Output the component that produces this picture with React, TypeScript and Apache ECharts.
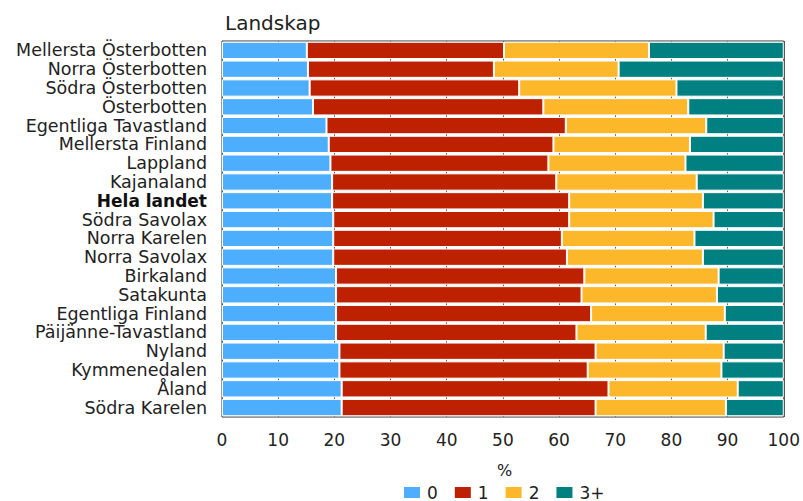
import React, { useEffect, useRef } from "react";
import * as echarts from "echarts";

const categories = [
  "Mellersta Österbotten",
  "Norra Österbotten",
  "Södra Österbotten",
  "Österbotten",
  "Egentliga Tavastland",
  "Mellersta Finland",
  "Lappland",
  "Kajanaland",
  "Hela landet",
  "Södra Savolax",
  "Norra Karelen",
  "Norra Savolax",
  "Birkaland",
  "Satakunta",
  "Egentliga Finland",
  "Päijänne-Tavastland",
  "Nyland",
  "Kymmenedalen",
  "Åland",
  "Södra Karelen",
];

const seriesNames = ["0", "1", "2", "3+"];
const values0 = [15.1, 15.3, 15.6, 16.2, 18.6, 19.0, 19.3, 19.6, 19.6, 19.8, 19.8, 19.8, 20.3, 20.3, 20.3, 20.3, 20.9, 20.9, 21.3, 21.3];
const values1 = [35.1, 33.1, 37.3, 41.0, 42.6, 40.0, 38.8, 39.9, 42.2, 42.0, 40.7, 41.6, 44.2, 43.7, 45.4, 42.8, 45.6, 44.2, 47.5, 45.2];
const values2 = [25.8, 22.2, 28.0, 25.8, 25.0, 24.3, 24.4, 25.0, 23.8, 25.7, 23.6, 24.2, 23.9, 24.1, 23.8, 23.0, 22.8, 23.8, 23.0, 23.2];
const values3 = [24.0, 29.4, 19.1, 17.0, 13.8, 16.7, 17.5, 15.5, 14.4, 12.5, 15.9, 14.4, 11.6, 11.9, 10.5, 13.9, 10.7, 11.1, 8.2, 10.3];
const xTicks = [0, 10, 20, 30, 40, 50, 60, 70, 80, 90, 100];
const colors = ["#4DAEFD", "#BE2100", "#FDB72A", "#008080"];
const boldCategory = "Hela landet";

export default function App() {
  const ref = useRef<HTMLDivElement>(null);
  useEffect(() => {
    if (!ref.current) return;
    const chart = echarts.init(ref.current, null, { renderer: "svg" });
    const font = "DejaVu Sans";
    const allValues = [values0, values1, values2, values3];
    chart.setOption({
      animation: false,
      color: colors,
      textStyle: { fontFamily: font },
      grid: { left: 222, right: 9, top: 41, bottom: 84, show: true, borderColor: "#333", borderWidth: 1, backgroundColor: "#fff" },
      title: {
        text: "Landskap",
        left: 220,
        top: 8,
        textStyle: { fontFamily: font, fontSize: 20, fontWeight: "normal", color: "#222" },
      },
      graphic: [
        {
          type: "text",
          left: 497,
          top: 462,
          style: { text: "%", font: `16px "${font}"`, fill: "#222" },
        },
      ],
      legend: {
        data: seriesNames,
        left: 402,
        top: 484,
        icon: "rect",
        itemWidth: 18,
        itemHeight: 13,
        itemGap: 15,
        padding: 0,
        textStyle: { fontFamily: font, fontSize: 17, lineHeight: 17, color: "#222", padding: [0, 0, 0, 1] },
      },
      xAxis: {
        type: "value",
        min: xTicks[0],
        max: xTicks[xTicks.length - 1],
        interval: 10,
        axisLine: { show: false },
        axisTick: { show: false },
        axisLabel: { fontFamily: font, fontSize: 17, color: "#222", margin: 14 },
        splitLine: { show: true, lineStyle: { color: "#555", width: 1 } },
      },
      yAxis: {
        type: "category",
        data: categories,
        inverse: true,
        axisLine: { show: false },
        axisTick: { show: false },
        axisLabel: {
          interval: 0,
          fontFamily: font,
          fontSize: 17.5,
          lineHeight: 18,
          color: "#222",
          margin: 15,
          formatter: (v: string) => (v === boldCategory ? `{b|${v}}` : v),
          rich: { b: { fontFamily: font, fontSize: 17, lineHeight: 18, fontWeight: "bold", color: "#111" } },
        },
      },
      series: seriesNames.map((name, i) => ({
        name,
        type: "bar",
        stack: "total",
        data: allValues[i],
        barCategoryGap: "8%",
        itemStyle: { borderColor: "#fff", borderWidth: 1 },
      })),
    });
    return () => chart.dispose();
  }, []);
  return <div ref={ref} style={{ position: "absolute", left: 0, top: 0, width: 803, height: 501 }} />;
}
